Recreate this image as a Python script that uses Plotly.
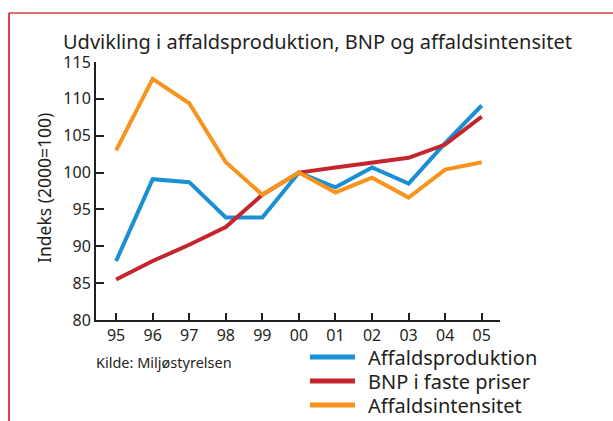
import plotly.graph_objects as go

years = [1995, 1996, 1997, 1998, 1999, 2000, 2001, 2002, 2003, 2004, 2005]
tick_labels = ["95", "96", "97", "98", "99", "00", "01", "02", "03", "04", "05"]
affaldsproduktion = [88.0, 99.1, 98.7, 93.9, 93.9, 100.0, 98.0, 100.7, 98.5, 104.0, 109.1]
bnp = [85.5, 88.0, 90.2, 92.6, 97.0, 100.0, 100.7, 101.4, 102.0, 103.8, 107.6]
affaldsintensitet = [103.0, 112.7, 109.4, 101.4, 97.0, 100.0, 97.3, 99.3, 96.6, 100.4, 101.4]
series_names = ["Affaldsproduktion", "BNP i faste priser", "Affaldsintensitet"]
series_colors = ["#1a8fd4", "#c4262e", "#f7941d"]
y_ticks = [80, 85, 90, 95, 100, 105, 110, 115]

W, H = 613, 421
L, R, T, B = 96, 500, 62, 320
def px(x):
    return (x - L) / (R - L)
def py(y):
    return (B - y) / (B - T)

font = "Noto Sans"
txt = "#231f20"

fig = go.Figure()
for name, vals, col in zip(series_names, [affaldsproduktion, bnp, affaldsintensitet], series_colors):
    fig.add_trace(go.Scatter(x=years, y=vals, mode="lines", name=name,
                             line=dict(color=col, width=4), showlegend=False,
                             hoverinfo="skip"))

shapes = []
annotations = []
# manual legend
leg_y = [357, 381, 405]
for name, col, yy in zip(series_names, series_colors, leg_y):
    shapes.append(dict(type="line", xref="paper", yref="paper",
                       x0=px(310), x1=px(355), y0=py(yy), y1=py(yy),
                       line=dict(color=col, width=5)))
    annotations.append(dict(text=name, xref="paper", yref="paper", x=px(366), y=py(yy),
                            xanchor="left", yanchor="middle", showarrow=False,
                            font=dict(family=font, size=20, color=txt)))
# frame lines
shapes.append(dict(type="line", xref="paper", yref="paper", x0=px(9), x1=px(613),
                   y0=py(13), y1=py(13), line=dict(color="#e07078", width=2)))
shapes.append(dict(type="line", xref="paper", yref="paper", x0=px(9), x1=px(9),
                   y0=py(13), y1=py(421), line=dict(color="#d8404c", width=2)))

annotations.append(dict(text="Udvikling i affaldsproduktion, BNP og affaldsintensitet",
                        xref="paper", yref="paper", x=px(61), y=py(41),
                        xanchor="left", yanchor="middle", showarrow=False,
                        font=dict(family=font, size=20, color=txt)))
annotations.append(dict(text="Indeks (2000=100)", xref="paper", yref="paper",
                        x=px(44), y=py(188), xanchor="center", yanchor="middle",
                        textangle=-90, showarrow=False,
                        font=dict(family=font, size=17.5, color=txt)))
annotations.append(dict(text="Kilde: Miljøstyrelsen", xref="paper", yref="paper",
                        x=px(94), y=py(362), xanchor="left", yanchor="middle",
                        showarrow=False, font=dict(family=font, size=14.5, color=txt)))

fig.update_layout(
    width=W, height=H,
    margin=dict(l=L, r=W - R, t=T, b=H - B),
    paper_bgcolor="white", plot_bgcolor="white",
    shapes=shapes, annotations=annotations,
    font=dict(family=font, color=txt),
)
fig.update_xaxes(range=[1994.45, 2005.5], tickvals=years, ticktext=tick_labels,
                 showgrid=False, zeroline=False, showline=True, linecolor=txt, linewidth=2,
                 ticks="inside", ticklen=7, tickwidth=2, tickcolor=txt,
                 tickfont=dict(family=font, size=16, color=txt))
fig.update_yaxes(range=[80, 115], tickvals=y_ticks,
                 showgrid=False, zeroline=False, showline=True, linecolor=txt, linewidth=2,
                 ticks="inside", ticklen=8, tickwidth=2, tickcolor=txt,
                 tickfont=dict(family=font, size=16, color=txt))

fig.write_html("out.html", config={"displayModeBar": False},
               post_script="document.body.style.margin='0';document.body.style.overflow='hidden';")
